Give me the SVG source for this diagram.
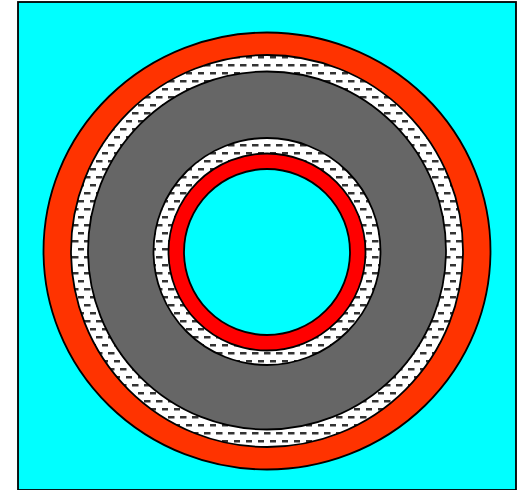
<svg xmlns="http://www.w3.org/2000/svg" width="523" height="490" viewBox="0 0 523 490">
<defs>
<pattern id="dash" x="0" y="0" width="12" height="16" patternUnits="userSpaceOnUse">
<rect width="12" height="16" fill="#ffffff"/>
<rect x="0" y="0" width="6.5" height="2.5" fill="#333333"/>
<rect x="6" y="8" width="6.5" height="2.5" fill="#333333"/>
</pattern>
<style>
.s{stroke:#000;stroke-width:1.8}
</style>
</defs>
<rect id="background" x="0" y="0" width="523" height="490" fill="#ffffff"/>
<rect id="square" class="s" x="18" y="2" width="498" height="488" fill="#00ffff"/>
<g id="outer-layer"><ellipse class="s" cx="267" cy="251" rx="223.5" ry="218.5" fill="#ff3300"/></g>
<g id="outer-dashed-ring"><circle class="s" cx="267" cy="251" r="196" fill="url(#dash)"/></g>
<g id="gray-ring"><circle class="s" cx="267" cy="250.5" r="179" fill="#666666"/></g>
<g id="inner-dashed-ring"><circle class="s" cx="267" cy="251.5" r="113.5" fill="url(#dash)"/></g>
<g id="red-ring"><circle class="s" cx="267" cy="252" r="98.5" fill="#ff0000"/></g>
<g id="core"><circle class="s" cx="267" cy="252" r="83" fill="#00ffff"/></g>
</svg>
